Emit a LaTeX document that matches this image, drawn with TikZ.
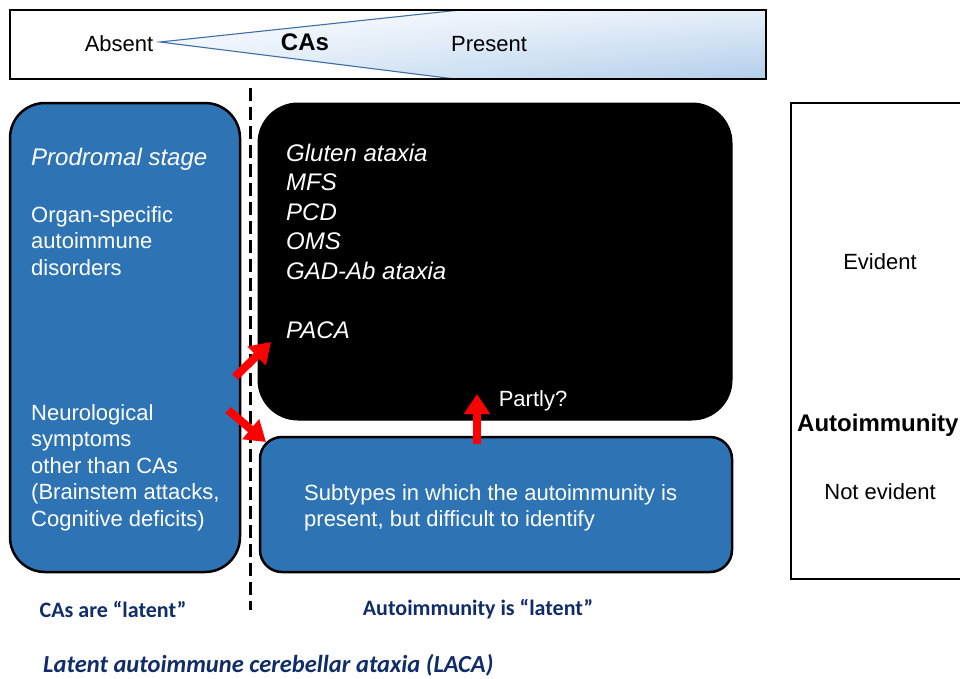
\documentclass[tikz,border=0pt]{standalone}
\usepackage{fontspec}
\setmainfont{Liberation Sans}
\newfontfamily\calfont{Carlito}
\usetikzlibrary{arrows.meta,shadings}
\definecolor{boxblue}{RGB}{46,116,181}
\definecolor{navytext}{RGB}{16,45,105}
\definecolor{wedgeline}{RGB}{60,110,170}
\definecolor{wedgeblue}{RGB}{178,206,235}
\definecolor{wedgelight}{RGB}{228,238,249}
\definecolor{arrred}{RGB}{255,0,0}
\begin{document}
\begin{tikzpicture}[x=1pt,y=-1pt,
  bluebox/.style={draw=black, line width=2.5pt, fill=boxblue, inner sep=0pt},
  blackbox/.style={draw=black, line width=1pt, fill=black, inner sep=0pt},
  regtxt/.style={font=\fontsize{22}{26.5}\selectfont, inner sep=0pt},
  ittxt/.style={font=\fontsize{24}{29.5}\selectfont\itshape, inner sep=0pt},
  boldtxt/.style={font=\fontsize{24}{28}\selectfont\bfseries, inner sep=0pt},
  navylabel/.style={font=\calfont\fontsize{22}{24}\selectfont\bfseries, text=navytext, inner sep=0pt},
  redarrow/.style={draw=arrred, line width=8pt, -{Triangle[length=20pt,width=25pt]}},
]
\useasboundingbox (0,0) rectangle (960,678);
% top bar
\shade[upper left=white, upper right=wedgelight, lower left=wedgelight, lower right=wedgeblue]
  (160,42) -- (460,10) -- (766,10) -- (766,79) -- (455,79) -- cycle;
\coordinate (apex) at (160,42);
\coordinate (wtop) at (460,10);
\coordinate (wbot) at (455,79);
\draw[wedgeline, line width=1.1pt] (wtop) -- (apex) -- (wbot);
\node[draw=black, line width=2.5pt, minimum width=756pt, minimum height=69pt, inner sep=0pt] (bar) at (388,44.5) {};
\node[regtxt] (absent) at (119,44) {Absent};
\node[boldtxt] (cas) at (305,42) {CAs};
\node[regtxt] (present) at (489,44) {Present};
% dashed divider
\coordinate (dtop) at (250,88);
\coordinate (dbot) at (250,610);
\draw[black, line width=3pt, dash pattern=on 13pt off 6pt] (dtop) -- (dbot);
% boxes
\node[bluebox, rounded corners=35pt, minimum width=230pt, minimum height=469pt] (left) at (125,337.5) {};
\node[blackbox, rounded corners=40pt, minimum width=474pt, minimum height=317pt] (black) at (495,261.5) {};
\node[bluebox, rounded corners=22pt, minimum width=472pt, minimum height=135pt] (low) at (496,504.5) {};
\node[draw=black, line width=2pt, minimum width=184pt, minimum height=476pt, inner sep=0pt] (right) at (883,341) {};
% left box text
\node[ittxt, text=white, anchor=north west] (prod) at (31,147.5) {Prodromal stage};
\node[regtxt, text=white, anchor=north west, align=left] (organ) at (31,206) {Organ-specific\\autoimmune\\disorders};
\node[regtxt, text=white, anchor=north west, align=left] (neuro) at (31,404) {Neurological\\symptoms\\other than CAs\\(Brainstem attacks,\\Cognitive deficits)};
% black box text
\node[ittxt, text=white, anchor=north west, align=left] (list) at (286,143.5) {Gluten ataxia\\MFS\\PCD\\OMS\\GAD-Ab ataxia\\[29.5pt]PACA};
\node[regtxt, text=white] (partly) at (533,401) {Partly?};
% lower box text
\node[regtxt, text=white, anchor=north west, align=left] (sub) at (304,484) {Subtypes in which the autoimmunity is\\present, but difficult to identify};
% right box text
\node[regtxt] (evident) at (880,262) {Evident};
\node[boldtxt, anchor=west] (auto) at (797,425) {Autoimmunity};
\node[regtxt] (notev) at (880,492) {Not evident};
% bottom labels
\node[navylabel] (lat1) at (113,609) {CAs are “latent”};
\node[navylabel] (lat2) at (478,609) {Autoimmunity is “latent”};
\node[font=\calfont\fontsize{24.5}{27}\selectfont\bfseries\itshape, text=navytext, inner sep=0pt, anchor=west] (laca) at (43,665) {Latent autoimmune cerebellar ataxia (LACA)};
% red arrows
\coordinate (a1s) at (235,377);
\coordinate (a1e) at (271,342);
\coordinate (a2s) at (228,410);
\coordinate (a2e) at (266,442);
\coordinate (a3s) at (477,444);
\coordinate (a3e) at (477,394);
\draw[redarrow] (a1s) -- (a1e);
\draw[redarrow] (a2s) -- (a2e);
\draw[redarrow] (a3s) -- (a3e);
\end{tikzpicture}
\end{document}
